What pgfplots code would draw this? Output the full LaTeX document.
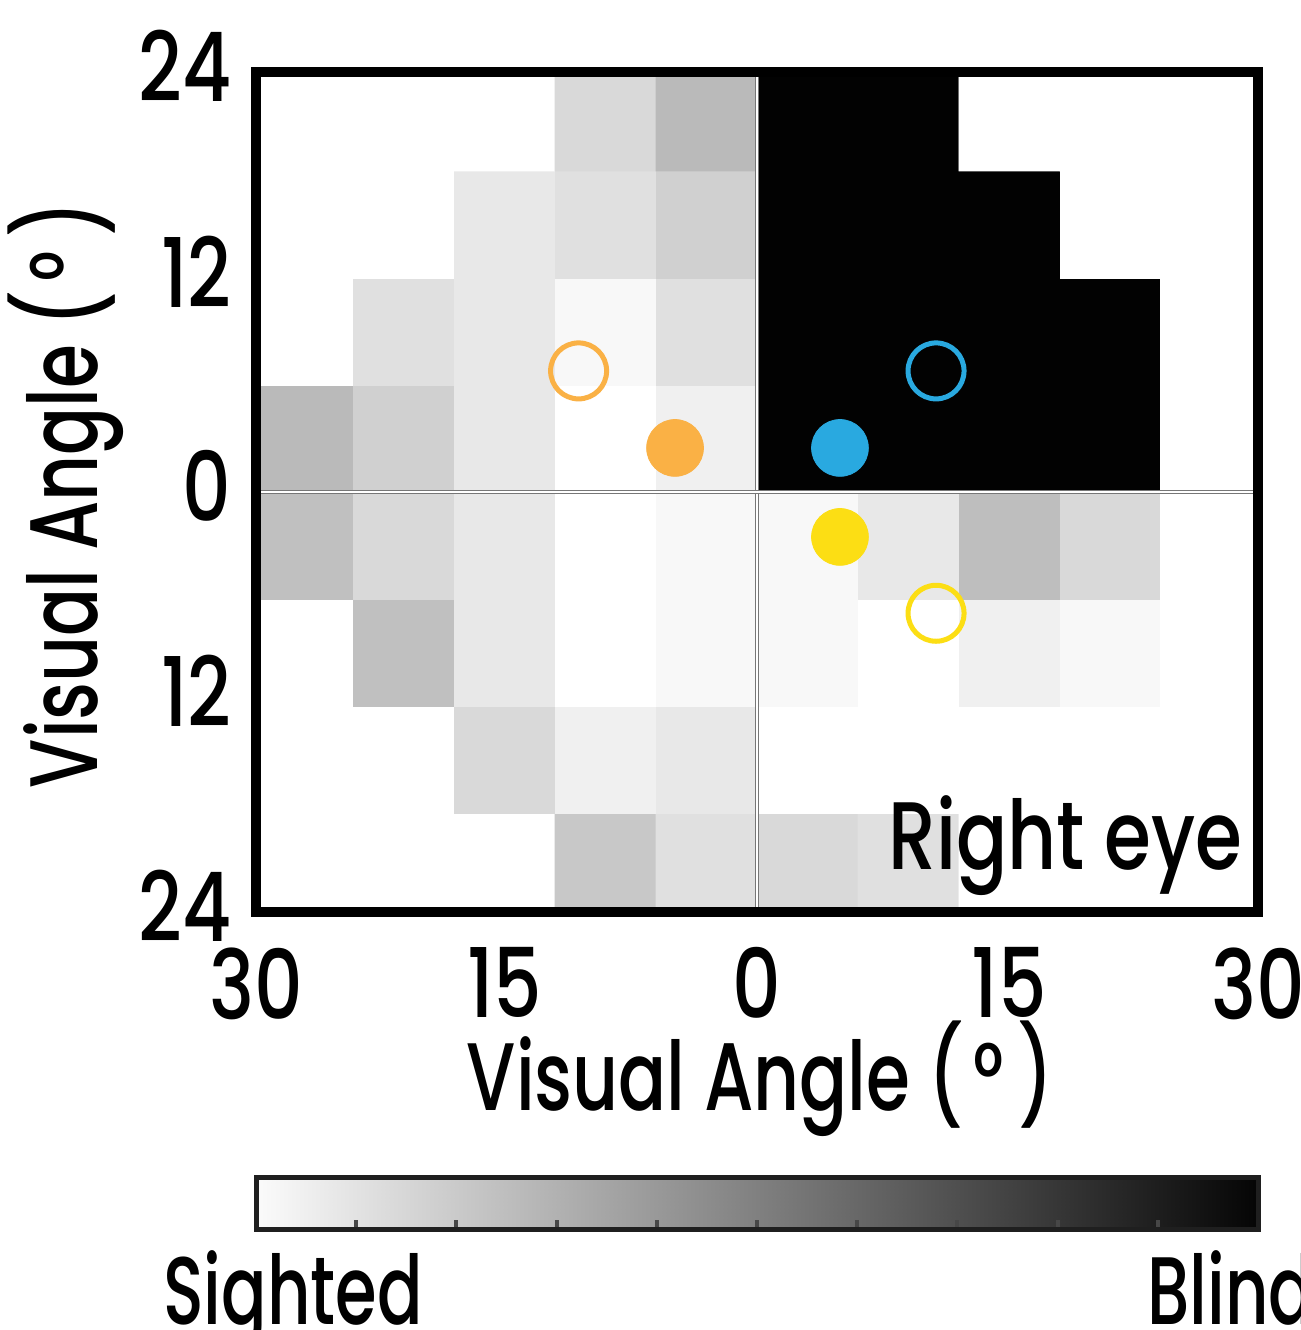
\documentclass[border=0pt]{standalone}
\usepackage{fontspec}
\setmainfont{Poppins}[UprightFont=* Medium, FakeStretch=0.79]
\newfontfamily\labfont{Poppins}[UprightFont=* Medium, FakeStretch=0.74]
\newfontfamily\cbfont{Poppins}[UprightFont=* Medium, FakeStretch=0.70]
\usepackage{pgfplots}
\usepackage{pgfplotstable}
\pgfplotsset{compat=1.18}
\definecolor{cOrange}{HTML}{FAB145}
\definecolor{cBlue}{HTML}{29A9E0}
\definecolor{cYellow}{HTML}{FCDE14}
\definecolor{zeroline}{HTML}{777777}
\pgfplotstableread{
x y c
-27 -21 0
-21 -21 0
-15 -21 0
-9 -21 0.216
-3 -21 0.122
3 -21 0.149
9 -21 0.122
15 -21 0
21 -21 0
27 -21 0
-27 -15 0
-21 -15 0
-15 -15 0.149
-9 -15 0.059
-3 -15 0.09
3 -15 0
9 -15 0
15 -15 0
21 -15 0
27 -15 0
-27 -9 0
-21 -9 0.247
-15 -9 0.09
-9 -9 0
-3 -9 0.027
3 -9 0.027
9 -9 0
15 -9 0.059
21 -9 0.027
27 -9 0
-27 -3 0.247
-21 -3 0.149
-15 -3 0.09
-9 -3 0
-3 -3 0.027
3 -3 0.027
9 -3 0.09
15 -3 0.255
21 -3 0.149
27 -3 0
-27 3 0.27
-21 3 0.184
-15 3 0.09
-9 3 0
-3 3 0.059
3 3 0.984
9 3 0.984
15 3 0.984
21 3 0.984
27 3 0
-27 9 0
-21 9 0.122
-15 9 0.09
-9 9 0.027
-3 9 0.122
3 9 0.984
9 9 0.984
15 9 0.984
21 9 0.984
27 9 0
-27 15 0
-21 15 0
-15 15 0.09
-9 15 0.122
-3 15 0.184
3 15 0.984
9 15 0.984
15 15 0.984
21 15 0
27 15 0
-27 21 0
-21 21 0
-15 21 0
-9 21 0.149
-3 21 0.27
3 21 0.984
9 21 0.984
15 21 0
21 21 0
27 21 0
}\cells
\pgfplotstableread{
x y c
0 0 0
1 0 1
0 1 0
1 1 1
}\cbar
\begin{document}
\fontsize{48}{56}\selectfont
\begin{tikzpicture}
\useasboundingbox (0,0) rectangle (650.5pt,665pt);
\clip (0,0) rectangle (650.5pt,665pt);
\begin{axis}[
  at={(128pt,209pt)}, anchor=south west,
  scale only axis, width=501pt, height=420pt,
  xmin=-29.77, xmax=29.77, ymin=-23.55, ymax=23.55,
  enlargelimits=false,
  axis on top,
  axis line style={line width=5pt, black},
  xtick={-29.77,-15,0,15,29.77}, xticklabels={30,15,0,15,30},
  ytick={-23.55,-11.5,0,12,23.55}, yticklabels={24,12,0,12,24},
  major tick length=0pt,
  /pgf/number format/assume math mode=true,
  xticklabel style={anchor=north, inner sep=0pt, yshift=-17.5pt},
  yticklabel style={anchor=east, inner sep=0pt, xshift=-12pt, yshift=3pt},
  colormap={wb}{gray(0cm)=(1); gray(1cm)=(0)},
  point meta min=0, point meta max=1,
]
\addplot[matrix plot*, mesh/cols=10, point meta=explicit] table[x=x, y=y, meta=c] {\cells};
\draw[zeroline, line width=0.5pt, double=white, double distance=0.7pt] (axis cs:0,-24) -- (axis cs:0,24);
\draw[zeroline, line width=0.5pt, double=white, double distance=0.7pt] (axis cs:-30,0) -- (axis cs:30,0);
\addplot[only marks, mark=*, mark size=14.2pt, color=cOrange] coordinates {(-4.87,2.47)};
\addplot[only marks, mark=o, mark size=14pt, mark options={line width=2.5pt}, color=cOrange] coordinates {(-10.6,6.79)};
\addplot[only marks, mark=*, mark size=14.2pt, color=cBlue] coordinates {(4.93,2.47)};
\addplot[only marks, mark=o, mark size=14pt, mark options={line width=2.5pt}, color=cBlue] coordinates {(10.64,6.79)};
\addplot[only marks, mark=*, mark size=14.2pt, color=cYellow] coordinates {(4.93,-2.52)};
\addplot[only marks, mark=o, mark size=14pt, mark options={line width=2.5pt}, color=cYellow] coordinates {(10.64,-6.8)};
\end{axis}
\begin{axis}[
  at={(128pt,50pt)}, anchor=south west,
  scale only axis, width=501pt, height=26pt,
  xmin=0, xmax=1, ymin=0, ymax=1,
  enlargelimits=false,
  axis on top,
  xtick={0.1,0.2,0.3,0.4,0.5,0.6,0.7,0.8,0.9},
  xticklabel={\relax},
  ytick=\empty,
  xtick pos=left, tick align=inside,
  major tick length=5pt,
  tick style={line width=2pt, black!72},
  axis line style={line width=2.5pt, black!88},
  colormap={wb}{gray(0cm)=(0.985); gray(1cm)=(0.02)},
  point meta min=0, point meta max=1,
]
\addplot[surf, shader=interp, mesh/cols=2, point meta=explicit] table[x=x, y=y, meta=c] {\cbar};
\end{axis}
\node[anchor=base east, inner sep=0pt] at (621.5pt,230pt) {Right eye};
\node[anchor=base, inner sep=0pt] at (380pt,109.5pt) {\labfont Visual Angle (\kern0.1em°\kern0.15em)};
\node[anchor=base, inner sep=0pt, rotate=90] at (48.5pt,417.5pt) {\labfont Visual Angle (\kern0.1em°\kern0.15em)};
\node[anchor=base west, inner sep=0pt] at (81.5pt,2.5pt) {\cbfont Sighted};
\node[anchor=base west, inner sep=0pt] at (573.5pt,2.5pt) {\cbfont Blind};
\end{tikzpicture}
\end{document}
